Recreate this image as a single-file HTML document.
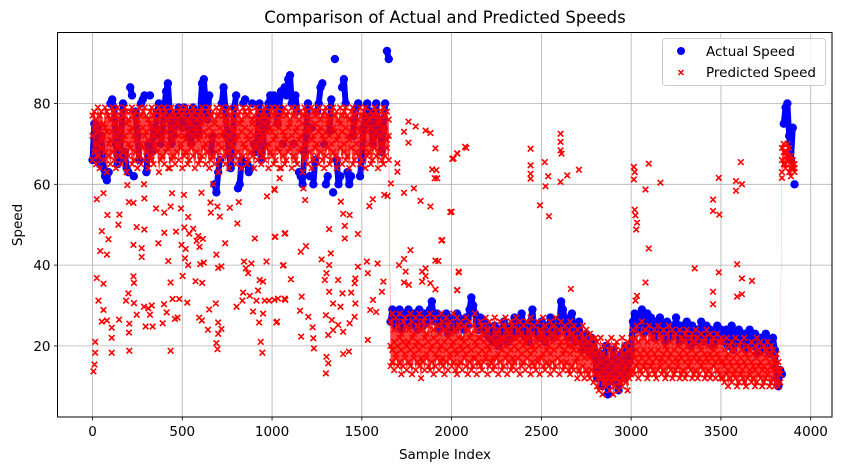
<!DOCTYPE html>
<html><head><meta charset="utf-8"><style>
html,body{margin:0;padding:0;background:#fff}
svg{display:block;font-family:"DejaVu Sans","Liberation Sans",sans-serif}
</style></head><body>
<svg id="chart" width="841" height="470" viewBox="0 0 841 470">
<rect width="841" height="470" fill="#fff"/>
<g id="grid"></g>
<g id="actual"></g>
<g id="pred"></g>
<rect x="57.5" y="32.5" width="774.5" height="384.5" fill="none" stroke="#000" stroke-width="1"/>
<g id="ticks"></g>
<text x="445" y="23" text-anchor="middle" font-size="16.5">Comparison of Actual and Predicted Speeds</text>
<text x="445" y="459" text-anchor="middle" font-size="13.5">Sample Index</text>
<text x="22" y="225" text-anchor="middle" font-size="13.5" transform="rotate(-90 22 225)">Speed</text>
<g>
<rect x="662.5" y="38.5" width="163" height="47" rx="3" fill="#fff" fill-opacity="0.8" stroke="#ccc"/>
<circle cx="681" cy="51" r="4" fill="#0000ff"/>
<text x="706" y="56" font-size="13.5">Actual Speed</text>
<path d="M678.5 70 L683.5 75 M683.5 70 L678.5 75" stroke="#ff0000" stroke-width="1.5"/>
<text x="706" y="77" font-size="13.5">Predicted Speed</text>
</g>
</svg>
<script>
const xTicks=[0,500,1000,1500,2000,2500,3000,3500,4000];
const yTicks=[20,40,60,80];
const sampleStep=10;
const actualSpeed=[66,75,66,74,65,72,64,62,61,63,80,
81,79,70,65,66,72,80,68,64,63,
84,82,62,78,72,66,80,81,82,63,
70,82,68,74,72,78,80,70,73,79,
83,85,78,70,72,75,77,79,78,74,
79,78,74,72,70,79,76,77,72,78,
85,86,80,76,82,68,72,60,58,63,
66,80,84,79,72,68,64,70,79,82,
59,60,66,80,81,65,63,64,80,70,
68,72,80,66,70,78,74,80,82,81,
82,80,75,79,83,70,84,82,86,87,
80,70,82,78,63,62,60,68,72,80,
62,74,60,66,78,80,84,85,70,60,
62,73,81,58,91,66,60,62,84,86,
80,63,60,62,72,76,79,80,62,66,
74,77,80,75,78,70,72,80,73,76,
68,74,80,93,91,
26,29,27,25,28,29,24,27,28,26,29,25,27,28,26,24,29,27,25,28,27,26,29,31,27,
26,28,24,27,25,26,28,23,27,25,26,24,28,27,25,26,24,27,25,29,32,30,28,26,24,27,25,26,23,25,
22,24,21,25,23,20,24,22,26,23,21,24,25,22,27,24,23,26,28,25,22,24,21,26,29,24,23,25,22,26,24,21,25,23,27,24,22,26,23,25,
31,29,27,24,22,25,28,23,21,24,26,22,19,20,23,21,18,22,20,17,
12,15,18,10,14,20,8,16,13,19,11,17,9,15,18,12,20,14,16,19,
26,28,24,27,25,29,23,26,28,24,27,25,22,26,24,27,23,25,21,26,24,22,25,23,27,24,21,25,23,22,26,24,20,25,23,21,24,22,26,23,21,25,22,24,20,23,21,25,22,24,
23,21,24,20,22,25,19,23,21,24,22,20,23,19,21,24,22,20,23,18,21,22,19,20,23,21,18,20,22,19,
12,10,14,13,
75,79,80,72,66,74,60];
const predHi=[77,78,76,79,77,78,75,79,78,77,76,79,78,77,79,76,78,77,79,78,76,78,79,77,78,76,79,77,78,79,77,76,78,79,77,78,76,79,78,77,79,78,76,77,79,78,77,76,78,79,77,78,79,76,78,77,79,78,76,77,78,79,77,76,78,79,77,78,76,79,77,78,79,77,76,78,79,77,78,76,79,77,78,76,79,78,77,79,78,76,77,79,78,76,77,78,79,77,76,78,79,77,78,79,76,77,78,79,77,78,76,79,77,78,79,76,78,77,79,78,77,76,79,78,77,78,79,76,77,78,79,77,76,78,79,77,78,76,79,77,78,79,77,76,78,79,77,78,76,79,77,78,79,77,76,78,77,79,78,77,76,78,79,77,78,76,
26,28,24,27,25,28,23,26,27,25,24,28,26,23,27,25,28,24,26,27,23,25,28,26,24,27,25,23,28,26,24,27,25,26,23,28,24,27,25,26,22,25,27,24,26,23,25,28,24,22,26,25,23,27,24,26,22,25,27,23,24,26,22,25,27,24,23,26,25,22,27,24,26,23,25,22,26,24,27,23,25,22,26,24,23,27,25,22,24,26,23,25,27,22,24,26,23,25,22,24,26,23,25,22,24,21,23,25,22,24,21,23,22,20,22,
21,19,22,18,20,17,21,19,22,18,20,21,17,19,22,18,20,21,19,22,
24,22,25,21,23,26,22,24,21,25,23,22,24,21,25,23,22,24,20,23,25,21,24,22,23,20,24,22,21,23,24,20,22,23,21,24,22,20,23,21,22,24,20,23,21,22,20,23,21,22,
21,19,22,18,20,21,19,22,18,20,21,19,22,18,20,19,21,18,20,22,19,21,18,20,19,21,18,20,19,17,18,16,
14,69,70,68,70,69,67,66,65];
const predMid=[72,74,70,73,75,71,72,74,73,70,71,73,75,72,70,74,73,71,72,75,70,73,74,72,71,75,73,70,74,72,73,71,75,74,72,70,73,74,71,72,75,73,70,72,74,71,73,75,72,70,74,72,71,73,75,70,72,74,73,71,72,75,73,70,72,74,71,73,75,72,70,74,72,73,71,75,72,70,74,73,71,72,75,73,70,74,72,71,73,75,72,70,74,73,71,72,75,73,70,74,73,71,72,75,74,70,73,72,71,74,75,72,70,73,74,71,72,75,73,70,74,73,71,72,75,70,73,74,72,71,73,75,72,70,74,73,71,72,75,73,70,74,72,71,73,75,72,70,74,73,71,72,75,73,70,74,72,71,73,75,72,70,74,73,71,72,
20,19,21,18,20,22,19,21,18,20,21,19,22,18,20,21,19,17,20,22,18,21,19,20,22,18,21,19,20,17,21,19,22,18,20,21,19,18,22,20,19,21,18,20,22,19,17,21,20,18,22,19,21,18,20,19,22,17,21,20,18,21,19,22,20,18,21,19,17,20,22,19,21,18,20,21,19,22,18,20,19,21,17,20,22,18,21,19,20,18,21,19,22,17,20,21,18,19,21,20,18,20,19,21,17,19,18,20,17,19,18,17,19,16,18,
15,13,16,12,14,11,15,13,16,12,14,15,11,13,16,14,15,13,16,14,
18,17,19,16,18,17,19,16,18,17,19,16,18,17,19,16,17,18,16,19,17,18,16,19,17,16,18,17,19,16,18,17,16,19,17,18,16,17,19,16,18,17,16,18,17,19,16,18,17,16,
16,15,17,14,16,15,17,14,16,15,17,14,16,15,17,14,16,15,14,17,15,16,14,15,17,14,16,15,14,16,15,14,
13,66,68,65,67,66,64,65,64];
const predLo=[66,68,65,67,64,69,66,68,63,67,65,68,66,64,69,67,65,68,66,63,67,69,65,66,68,64,67,65,69,66,68,64,67,66,65,69,68,63,66,67,65,68,69,64,66,67,65,68,66,69,64,67,68,65,66,69,67,64,68,65,66,67,69,65,68,64,66,67,65,68,63,66,69,67,65,68,64,66,69,67,65,68,66,64,67,69,65,66,68,67,64,69,66,68,65,67,66,69,64,68,67,65,66,69,68,64,67,65,66,68,69,64,67,66,65,68,69,63,66,67,65,68,64,66,69,67,65,68,66,64,67,69,65,66,68,67,64,66,69,65,68,66,67,64,69,65,66,68,67,65,66,69,64,67,68,65,66,69,67,64,68,66,65,67,69,66,
15,16,14,17,15,16,13,15,17,14,16,15,13,17,14,16,15,12,16,14,17,15,14,16,13,15,17,14,16,15,13,16,14,17,15,16,14,13,15,16,14,17,15,13,16,14,15,17,13,16,15,14,16,17,13,15,16,14,15,17,13,16,14,15,17,13,16,14,15,16,14,17,13,15,16,14,17,15,13,16,15,14,16,13,17,15,14,16,15,13,16,14,15,17,13,16,14,15,16,14,13,15,14,16,12,14,13,15,12,14,13,12,14,11,13,
10,9,12,8,11,10,12,9,11,8,10,12,9,11,10,12,11,9,12,13,
14,13,15,12,14,13,15,14,12,13,15,14,13,12,14,15,13,14,12,13,15,14,12,13,14,15,12,13,14,12,13,15,14,12,13,14,12,13,15,14,12,13,14,12,13,15,12,14,13,12,
12,11,13,10,12,11,13,12,10,11,13,12,11,10,12,13,11,12,10,11,13,12,10,11,12,13,10,11,12,10,11,10,
11,63,65,64,66,63,62,64,63];
const outIdx=[5,11,15,15,24,24,33,43,52,52,61,61,61,80,80,83,89,107,107,107,144,150,148,187,194,200,203,205,205,203,228,228,228,231,231,246,246,274,274,289,289,287,287,296,311,320,330,335,354,367,391,398,400,400,413,422,422,435,435,435,443,446,459,465,474,483,493,496,502,509,511,515,519,528,533,533,539,561,574,580,589,594,596,600,609,611,607,615,620,643,650,657,659,672,687,690,696,700,700,690,700,696,709,718,718,739,765,802,807,815,835,839,844,854,867,876,885,894,904,913,922,928,931,937,946,950,950,959,969,972,983,1015,1015,1024,1033,1061,1070,1070,
1042,1042,1013,1018,1074,1064,1105,1013,1074,1028,1160,1189,1165,1156,1202,1226,1230,1162,1233,1175,1184,1318,1327,1276,1318,1303,1294,1318,1340,1300,1333,1313,1340,1303,1300,1313,1383,1396,1432,1405,1405,1478,1368,1392,1381,1368,1396,1441,1464,1460,1432,1428,1396,1478,1464,1460,1528,1533,1542,1561,1625,1643,1698,1698,1662,1735,1790,1827,1882,1993,1906,1915,1943,1771,1735,1707,1588,1620,1562,1547,1533,1580,1612,2039,2030,1836,1836,1855,1735,1744,1882,1910,1910,1762,1855,1800,1855,1882,1760,1735,1760,1910,2011,2030,2075,1892,1920,
2004,2032,2082,2000,1948,1926,2041,2032,2440,2440,2440,2440,2519,2538,2523,2492,2542,2607,2607,2607,2612,2607,2644,2709,2664,3015,3020,3015,3098,3163,3080,3020,3024,3033,3028,3098,3080,3033,3024,3354,3488,3456,3456,3491,3584,3584,3617,3611,3590,3488,3617,3673,3456,3456,3590,3617,3840];
const outVal=[13.7,15.4,18.3,21,36.8,56.3,31.2,43.5,48.4,26,28.9,57.8,35.4,26.3,42.6,52.4,46.4,18.3,22,24.5,50,52.5,26.5,31.2,59.8,33,23.3,18.8,25.5,55.6,45,55.4,37.2,35.6,30.6,27.7,49.4,42,44.2,48.8,56.5,60,29.7,24.8,29.3,27.7,30,24.8,54,45.4,25.6,30.3,53,48,28.3,41,64,35.7,18.8,54.5,57.8,31.6,26.7,48.3,27,31.6,54,45,37.3,57.4,49.3,41.7,44,30.7,40,51.9,47.8,49,36,46,47.2,27,44.5,40.2,26.3,35.6,57.9,46.5,40.6,24,29,55.5,53,60,30.5,20.7,19.2,23,25.8,42.6,39.3,54.5,52,24.2,39.7,45.4,54.2,29.7,50.3,55.6,31.2,33.2,40.9,39.2,38,32.4,40.4,28.5,46.6,31.2,33.7,25.8,36.3,21,18.3,35.9,28,31.2,40.9,57,31.2,47,58.6,25.8,31.7,39.9,47.8,31.7,
64,61.5,58.8,47,47.9,40,36.5,31.4,31.4,26,43.3,44.7,32.2,28.7,27.2,24.6,21.9,22.3,19.4,59,56.1,48.9,42.9,41.4,40,38,36.3,33.4,30.5,27.6,26.4,22.7,23.9,17.3,13.2,15.7,55.7,52.7,52.4,49.7,46.6,47.7,36.3,33,29.7,25.2,23.5,33.2,30.5,27.2,25.6,18.6,18,39.6,36.7,35.5,40.9,38,54.6,56.3,57.4,57.1,65.2,63.1,60.2,57.9,59,55.9,54.5,53.1,61.5,63.5,46.1,43.7,41.5,40,40.4,35.9,31.4,28.9,21.5,28.4,33.4,38.4,33.8,38.4,35.9,37.3,35.7,38.4,35.5,34,41.1,35.1,39.2,74.3,73.3,72.7,75.5,73,70.3,68.9,66.4,67.7,69.3,63.7,61.5,
66.3,67.6,69,53.2,46.2,41,38.2,33.8,68.8,64.7,62.6,61.4,65.5,62,59.5,54.8,52.1,72.5,70.5,68.4,67.6,60.6,62.2,63.6,34.1,64.3,63,61.2,65.1,60.4,58.7,53.7,52.3,50.5,48.8,44.1,35.7,32.4,31.2,39.2,61.6,56.2,53.4,52.5,60.8,58.4,60,65.5,40.2,38.2,36.7,36.1,33.4,30.3,32.2,32.8,61.6];

const NS='http://www.w3.org/2000/svg';
const X0=57.5,X1=832,Y0=32.5,Y1=417;
function xScale(i){return 92.5+i*0.17955;}
function yScale(v){return 426.7-v*4.04;}
function mk(tag,attrs,parent){const e=document.createElementNS(NS,tag);for(const k in attrs)e.setAttribute(k,attrs[k]);parent.appendChild(e);return e;}
const grid=document.getElementById('grid'),ticks=document.getElementById('ticks');
xTicks.forEach(t=>{const x=xScale(t);
 const g=mk('line',{x1:x,x2:x,y1:Y0,y2:Y1,stroke:'#b0b0b0','stroke-width':0.8},grid);
 
 
 const tk=mk('line',{x1:x,x2:x,y1:Y1,y2:Y1+3.5,stroke:'#000','stroke-width':0.8},ticks);
 
 
 const lb=mk('text',{x:x,y:Y1+19,'text-anchor':'middle','font-size':13.5},ticks);lb.textContent=t;
 
 
});
yTicks.forEach(t=>{const y=yScale(t);
 const g=mk('line',{x1:X0,x2:X1,y1:y,y2:y,stroke:'#b0b0b0','stroke-width':0.8},grid);
 
 
 const tk=mk('line',{x1:X0-3.5,x2:X0,y1:y,y2:y,stroke:'#000','stroke-width':0.8},ticks);
 
 
 const lb=mk('text',{x:X0-7,y:y+5,'text-anchor':'end','font-size':13.5},ticks);lb.textContent=t;
 
 
});
const ga=document.getElementById('actual');
// blob trail between consecutive actual samples; broken at large jumps
let ad='';
actualSpeed.forEach((v,i)=>{
 const cmd=(i===0||Math.abs(v-actualSpeed[i-1])>9)?'M':'L';
 ad+=cmd+xScale(i*sampleStep)+' '+yScale(v);
});
const trail=mk('path',{d:ad,stroke:'#0000ff','stroke-width':6,'stroke-linejoin':'round','stroke-linecap':'round',fill:'none'},ga);


actualSpeed.forEach((v,i)=>{
 const c=mk('circle',{cx:xScale(i*sampleStep),cy:yScale(v),r:4.2,fill:'#0000ff'},ga);
 
 
});
const gp=document.getElementById('pred');
// predicted band (dense overlap of markers between low and high predictions)
let bd='';
predHi.forEach((v,i)=>{bd+=(i?'L':'M')+xScale(i*sampleStep)+' '+yScale(v);});
for(let i=predLo.length-1;i>=0;i--){bd+='L'+xScale(i*sampleStep)+' '+yScale(predLo[i]);}
const band=mk('path',{d:bd+'Z',fill:'#ff0000','fill-opacity':0.75,stroke:'none'},gp);


let d='';
function addX(i,v){const x=xScale(i),y=yScale(v),s=2.8;d+=`M${x-s} ${y-s}L${x+s} ${y+s}M${x+s} ${y-s}L${x-s} ${y+s}`;}
[predHi,predMid,predLo].forEach(arr=>arr.forEach((v,i)=>addX(i*sampleStep,v)));
outIdx.forEach((ix,k)=>addX(ix,outVal[k]));
const p=mk('path',{d:d,stroke:'#ff0000','stroke-width':1.6,fill:'none'},gp);


</script>
</body></html>
